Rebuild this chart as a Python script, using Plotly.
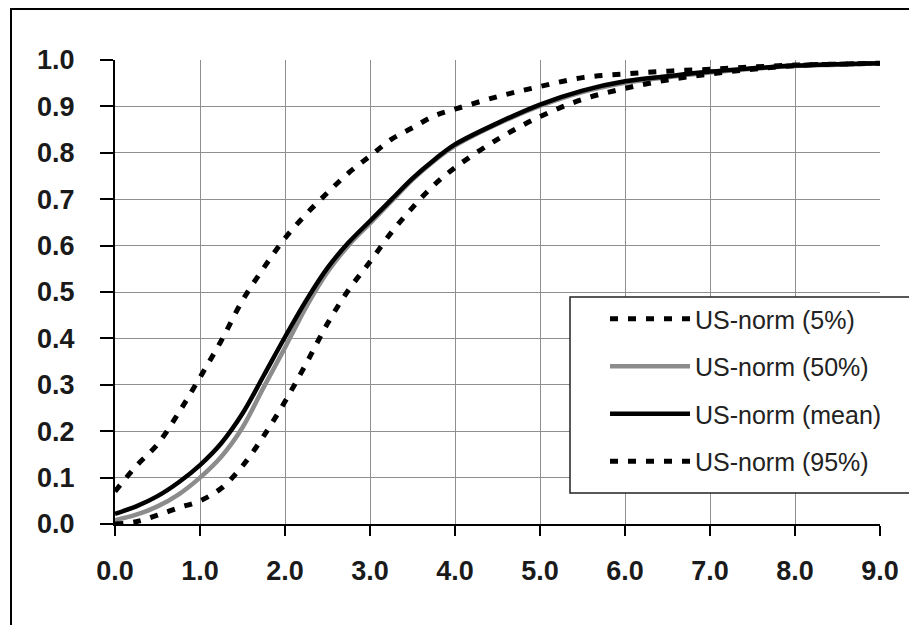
import plotly.graph_objects as go

# ---- data ----
x_vals = [0, 0.25, 0.5, 0.75, 1.0, 1.25, 1.5, 1.75, 2.0, 2.25, 2.5, 2.75, 3.0,
          3.25, 3.5, 3.75, 4.0, 4.5, 5.0, 5.5, 6.0, 6.5, 7.0, 7.5, 8.0, 8.5, 9.0]

p5 = [0.070, 0.125, 0.172, 0.240, 0.316, 0.395, 0.482, 0.552, 0.616, 0.668, 0.714,
      0.757, 0.793, 0.829, 0.854, 0.879, 0.894, 0.921, 0.943, 0.962, 0.970, 0.976,
      0.980, 0.985, 0.989, 0.991, 0.993]
p50 = [0.008, 0.020, 0.038, 0.064, 0.100, 0.145, 0.208, 0.295, 0.380, 0.468, 0.543,
       0.601, 0.648, 0.695, 0.742, 0.782, 0.815, 0.862, 0.901, 0.931, 0.951, 0.963,
       0.973, 0.981, 0.987, 0.990, 0.993]
mean = [0.022, 0.038, 0.060, 0.090, 0.127, 0.174, 0.238, 0.320, 0.403, 0.482, 0.552,
        0.607, 0.653, 0.699, 0.745, 0.784, 0.818, 0.864, 0.904, 0.934, 0.954, 0.965,
        0.975, 0.982, 0.988, 0.991, 0.993]
p95 = [0.000, 0.005, 0.019, 0.035, 0.050, 0.077, 0.125, 0.190, 0.264, 0.346, 0.432,
       0.505, 0.565, 0.628, 0.682, 0.730, 0.768, 0.829, 0.878, 0.915, 0.939, 0.957,
       0.970, 0.980, 0.988, 0.991, 0.993]

names = ["US-norm (5%)", "US-norm (50%)", "US-norm (mean)", "US-norm (95%)"]
x_ticks = [0, 1, 2, 3, 4, 5, 6, 7, 8, 9]
y_ticks = [0.0, 0.1, 0.2, 0.3, 0.4, 0.5, 0.6, 0.7, 0.8, 0.9, 1.0]

# ---- layout constants (page offset of 8px from the default body margin) ----
OFF = 8
W, H = 917, 625
ML, MT = 115 - OFF, 60 - OFF
PW, PH = 765, 464
MR = W - ML - PW
MB = H - MT - PH


def px2paper_x(px):
    return (px - OFF - ML) / PW


def px2paper_y(py):
    return (MT + PH - (py - OFF)) / PH


dash = "8px,10px"
fig = go.Figure()
fig.add_trace(go.Scatter(x=x_vals, y=p5, name=names[0], mode="lines", legendgroup="a",
                         line=dict(color="black", width=5, dash=dash, shape="spline")))
fig.add_trace(go.Scatter(x=x_vals, y=p50, name=names[1], mode="lines", legendgroup="b",
                         line=dict(color="#8c8c8c", width=4.5, shape="spline")))
fig.add_trace(go.Scatter(x=x_vals, y=mean, name=names[2], mode="lines", legendgroup="c",
                         line=dict(color="black", width=4.5, shape="spline")))
fig.add_trace(go.Scatter(x=x_vals, y=p95, name=names[3], mode="lines", legendgroup="d",
                         line=dict(color="black", width=5, dash=dash, shape="spline")))

tickfont = dict(family="Liberation Sans", size=27, color="#1a1a1a", weight="bold")

fig.update_layout(
    width=W, height=H,
    margin=dict(l=ML, r=MR, t=MT, b=MB),
    paper_bgcolor="white", plot_bgcolor="white",
    font=dict(family="Liberation Sans", color="#1a1a1a"),
    xaxis=dict(range=[0, 9], tickvals=x_ticks, tickformat=".1f",
               showgrid=True, gridcolor="#8f8f8f", gridwidth=1,
               showline=True, linecolor="black", linewidth=2,
               ticks="outside", ticklen=10, tickcolor="black", tickwidth=1.5,
               zeroline=False, tickfont=tickfont, ticklabelstandoff=12),
    yaxis=dict(range=[0, 1], tickvals=y_ticks, tickformat=".1f",
               showgrid=True, gridcolor="#8f8f8f", gridwidth=1,
               showline=True, linecolor="black", linewidth=2,
               ticks="outside", ticklen=13, tickcolor="black", tickwidth=1.5,
               zeroline=False, tickfont=tickfont, ticklabelstandoff=20),
    showlegend=True,
    legend=dict(x=px2paper_x(605), y=px2paper_y(296), xanchor="left", yanchor="top",
                bgcolor="rgba(0,0,0,0)", borderwidth=0, traceorder="grouped",
                tracegroupgap=12, itemwidth=80,
                font=dict(family="Liberation Sans", size=25, color="#222222")),
    shapes=[
        # outer chart frame
        dict(type="rect", xref="paper", yref="paper",
             x0=px2paper_x(11), x1=px2paper_x(W + 30),
             y0=px2paper_y(H + 30), y1=px2paper_y(9),
             line=dict(color="black", width=2), fillcolor="rgba(0,0,0,0)", layer="above"),
        # legend box
        dict(type="rect", xref="paper", yref="paper",
             x0=px2paper_x(570), x1=px2paper_x(W + 30),
             y0=px2paper_y(493), y1=px2paper_y(297),
             line=dict(color="#222222", width=1.5), fillcolor="white", layer="above"),
    ],
)

fig.write_html("out.html")
